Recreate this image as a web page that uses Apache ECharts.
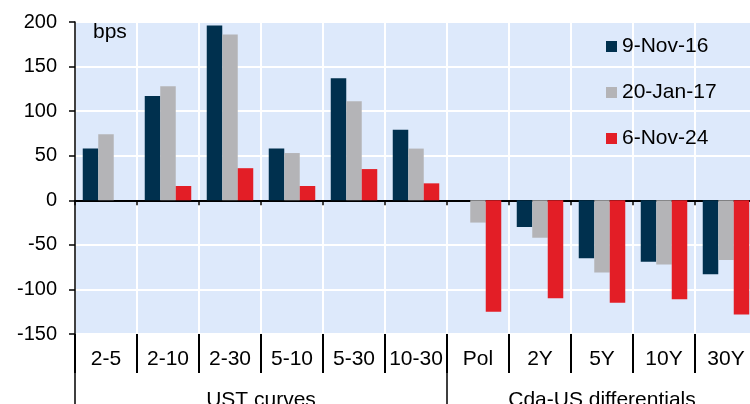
<!DOCTYPE html>
<html>
<head>
<meta charset="utf-8">
<script src="https://cdn.jsdelivr.net/npm/echarts@6/dist/echarts.min.js"></script>
<style>
  html, body { margin: 0; padding: 0; background: #fff; }
  #chart { width: 750px; height: 404px; }
</style>
</head>
<body>
<div id="chart"></div>
<script>
// categories: first 6 are UST curves, last 5 are Cda-US differentials
const categories = ['2-5', '2-10', '2-30', '5-10', '5-30', '10-30', 'Pol', '2Y', '5Y', '10Y', '30Y'];
const groupNames = ['UST curves', 'Cda-US differentials'];
const groupCenters = [3, 8.5];   // middle of each group, in category units
const groupEdges = [0, 6, 11];   // group separators
const yTicks = [-150, 200, 50];  // min, max, interval

// bps
const nov16 = [58, 117, 196, 58, 137, 79, null, -30, -65, -69, -83];
const jan17 = [74, 128, 186, 53, 111, 58, -25, -42, -81, -72, -67];
const nov24 = [null, 16, 36, 16, 35, 19, -125, -110, -115, -111, -128];

const chart = echarts.init(document.getElementById('chart'));
const font = 'Liberation Sans, Arial, sans-serif';

const option = {
  animation: false,
  textStyle: { fontFamily: font, color: '#000' },
  title: {
    text: 'bps',
    left: 88,
    top: 17,
    textStyle: { fontFamily: font, fontSize: 21, fontWeight: 'normal', color: '#000' }
  },
  legend: {
    orient: 'vertical',
    left: 601,
    top: 31,
    itemWidth: 11,
    itemHeight: 11,
    itemGap: 25,
    icon: 'rect',
    textStyle: { fontFamily: font, fontSize: 21, color: '#000' },
    data: ['9-Nov-16', '20-Jan-17', '6-Nov-24']
  },
  grid: {
    left: 75,
    top: 22,
    right: -7,
    bottom: 70,
    outerBoundsMode: 'none',
    show: true,
    backgroundColor: '#dde9fb',
    borderWidth: 0
  },
  xAxis: [
    {
      // zero line with small ticks and vertical grid lines
      type: 'category',
      data: categories,
      axisLine: { onZero: true, lineStyle: { color: '#000', width: 2 } },
      axisTick: { show: true, length: 5, lineStyle: { color: '#000', width: 1.5 } },
      axisLabel: { show: false },
      splitLine: { show: true, interval: 0, lineStyle: { color: '#fff', width: 2 } }
    },
    {
      // category labels under the plot
      type: 'category',
      data: categories,
      position: 'bottom',
      axisLine: { show: false, onZero: false },
      axisTick: { show: true, length: 39, lineStyle: { color: '#000', width: 2 } },
      axisLabel: { fontFamily: font, fontSize: 21, color: '#000', margin: 15, interval: 0 },
      splitLine: { show: false }
    },
    {
      // group labels
      type: 'value',
      min: 0,
      max: 11,
      position: 'bottom',
      axisLine: { show: false, onZero: false },
      axisTick: { show: true, customValues: groupEdges, length: 80, lineStyle: { color: '#000', width: 1.5 } },
      axisLabel: {
        customValues: groupCenters,
        fontFamily: font,
        fontSize: 21,
        color: '#000',
        margin: 56,
        formatter: v => groupNames[groupCenters.indexOf(v)]
      },
      splitLine: { show: false }
    }
  ],
  yAxis: {
    type: 'value',
    min: yTicks[0],
    max: yTicks[1],
    interval: yTicks[2],
    axisLine: { show: true, lineStyle: { color: '#000', width: 1.5 } },
    axisTick: { show: true, length: 6, lineStyle: { color: '#000', width: 1.5 } },
    axisLabel: { fontFamily: font, fontSize: 20, color: '#000', margin: 18 },
    splitLine: { show: true, lineStyle: { color: '#fff', width: 2 } }
  },
  series: [
    {
      name: '9-Nov-16',
      type: 'bar',
      data: nov16,
      barGap: '0%',
      barCategoryGap: '25%',
      itemStyle: { color: '#00304e' }
    },
    {
      name: '20-Jan-17',
      type: 'bar',
      data: jan17,
      itemStyle: { color: '#b4b4b7' }
    },
    {
      name: '6-Nov-24',
      type: 'bar',
      data: nov24,
      itemStyle: { color: '#e31e26' }
    }
  ]
};

chart.setOption(option);
</script>
</body>
</html>
